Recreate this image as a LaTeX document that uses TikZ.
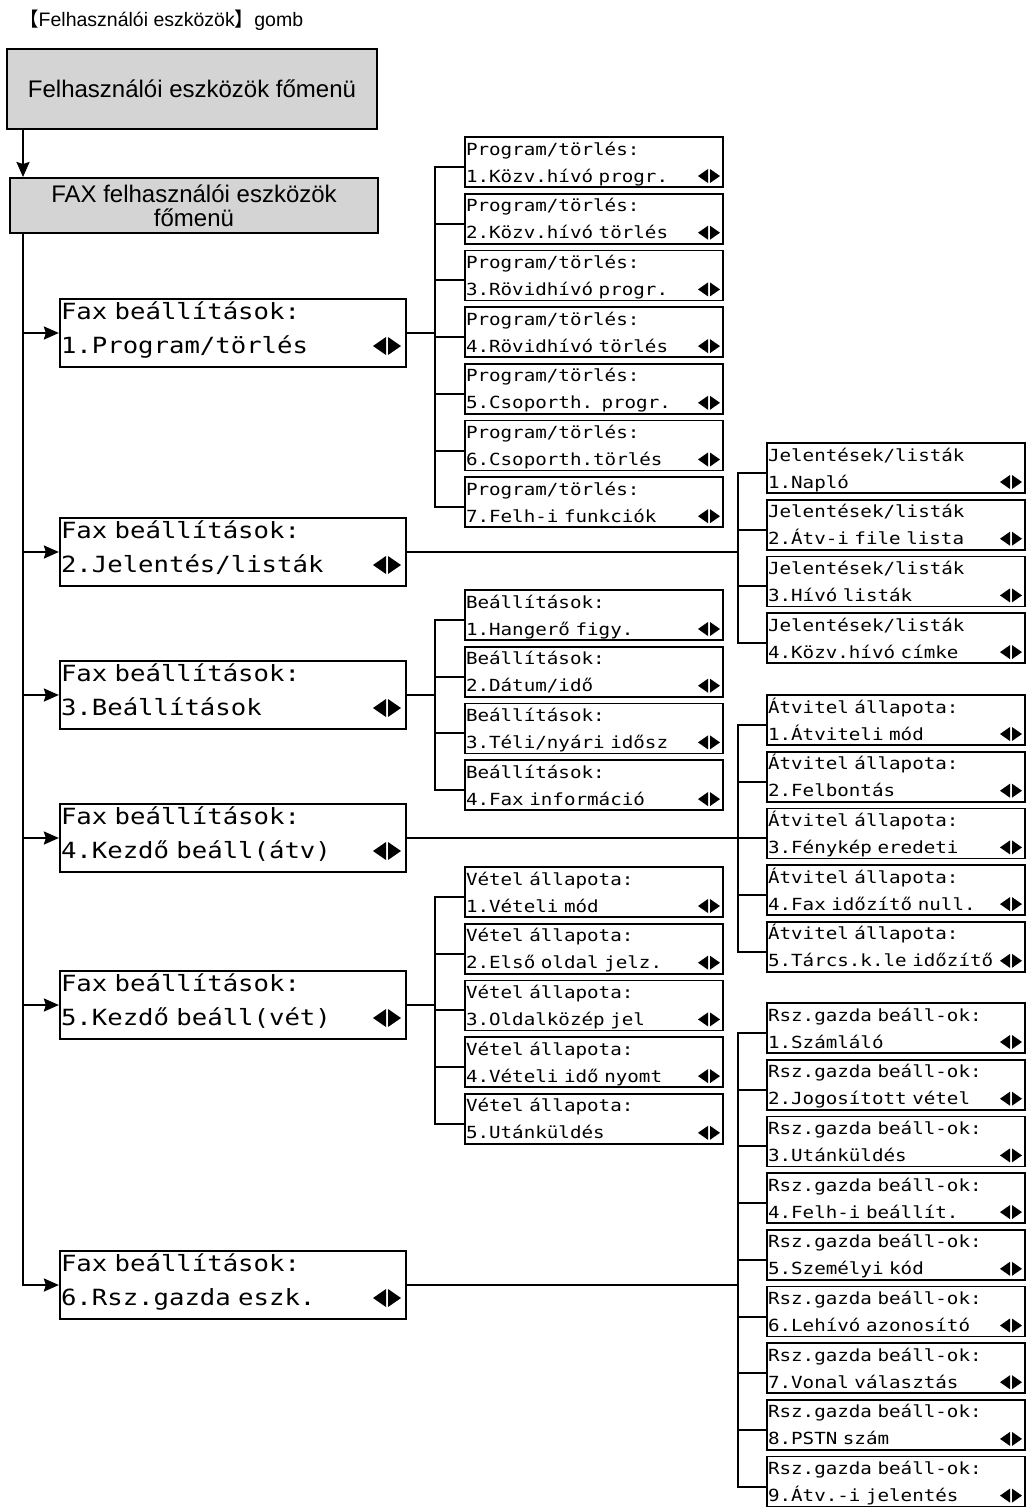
\documentclass[tikz,border=0pt]{standalone}
\usepackage{fontspec}
\newfontfamily\helv{Liberation Sans}
\newfontfamily\cjk{Noto Sans CJK JP}
\newfontfamily\lcd[FakeStretch=1.15]{DejaVu Sans Mono}
\protected\def\lcdbig{\lcd\fontsize{22.3}{34}\selectfont\spaceskip=15.44pt\relax}
\protected\def\lcdsmall{\lcd\fontsize{16.7}{27}\selectfont\spaceskip=11.56pt\relax}
\definecolor{MenuGray}{RGB}{212, 212, 212}
\usetikzlibrary{arrows.meta, positioning, calc}

\tikzset{
    menubox/.style={draw, line width=2pt, fill=MenuGray, align=center, inner sep=0pt},
    lcdmain/.style={draw, line width=2.2pt, minimum width=346pt, minimum height=68pt,
        text width=344pt, inner xsep=1pt, inner ysep=1pt, align=left,
        text height=19pt, text depth=47pt, font=\lcdbig,
        path picture={
            \fill ([xshift=-33pt, yshift=21pt]path picture bounding box.south east)
                -- ++(13pt, 9pt) -- ++(0pt, -18pt) -- cycle;
            \fill ([xshift=-5pt, yshift=21pt]path picture bounding box.south east)
                -- ++(-13pt, 9pt) -- ++(0pt, -18pt) -- cycle;
        }},
    lcdsub/.style={draw, line width=1.7pt, minimum width=258pt, minimum height=50pt,
        text width=256pt, inner xsep=1pt, inner ysep=1pt, align=left,
        text height=17pt, text depth=31pt, font=\lcdsmall,
        path picture={
            \fill ([xshift=-25pt, yshift=11pt]path picture bounding box.south east)
                -- ++(10pt, 7pt) -- ++(0pt, -14pt) -- cycle;
            \fill ([xshift=-3pt, yshift=11pt]path picture bounding box.south east)
                -- ++(-10pt, 7pt) -- ++(0pt, -14pt) -- cycle;
        }},
    tree/.style={line width=2pt},
    feed/.style={line width=2.2pt, -{Stealth[length=15pt, width=13pt, inset=2pt]}},
}

\begin{document}
\begin{tikzpicture}[x=1pt, y=-1pt]
        \useasboundingbox (0,0) rectangle (1027,1508);

        % button and the two top menus
        \node[anchor=base west, inner sep=0pt, font=\helv\fontsize{19.5}{21}\selectfont] (btnlabel) at (19,26)
            {{\cjk 【}Felhasználói eszközök{\cjk 】}gomb};
        \node[menubox, minimum width=370pt, minimum height=80pt, font=\helv\fontsize{24}{26}\selectfont] (umenu) at (192,89)
            {Felhasználói eszközök főmenü};
        \node[menubox, minimum width=368pt, minimum height=55pt, font=\helv\fontsize{24}{24}\selectfont] (faxmenu) at (194,205.5)
            {FAX felhasználói eszközök\\főmenü};

        \coordinate (trunk) at (23,233);
        \coordinate (busL) at (435,0);
        \coordinate (busR) at (738,0);

        % Fax beallitasok
        \node[lcdmain] (fs1) at (233,333) {Fax beállítások:\\1.Program/törlés};
        \node[lcdmain] (fs2) at (233,552) {Fax beállítások:\\2.Jelentés/listák};
        \node[lcdmain] (fs3) at (233,695) {Fax beállítások:\\3.Beállítások};
        \node[lcdmain] (fs4) at (233,838) {Fax beállítások:\\4.Kezdő beáll(átv)};
        \node[lcdmain] (fs5) at (233,1005) {Fax beállítások:\\5.Kezdő beáll(vét)};
        \node[lcdmain] (fs6) at (233,1285) {Fax beállítások:\\6.Rsz.gazda eszk.};

        % Program/torles
        \node[lcdsub] (prog1) at (594,162) {Program/törlés:\\1.Közv.hívó progr.};
        \node[lcdsub] (prog2) at (594,218.7) {Program/törlés:\\2.Közv.hívó törlés};
        \node[lcdsub] (prog3) at (594,275.4) {Program/törlés:\\3.Rövidhívó progr.};
        \node[lcdsub] (prog4) at (594,332.1) {Program/törlés:\\4.Rövidhívó törlés};
        \node[lcdsub] (prog5) at (594,388.8) {Program/törlés:\\5.Csoporth. progr.};
        \node[lcdsub] (prog6) at (594,445.5) {Program/törlés:\\6.Csoporth.törlés};
        \node[lcdsub] (prog7) at (594,502.2) {Program/törlés:\\7.Felh-i funkciók};

        % Beallitasok
        \node[lcdsub] (beall1) at (594,615) {Beállítások:\\1.Hangerő figy.};
        \node[lcdsub] (beall2) at (594,671.7) {Beállítások:\\2.Dátum/idő};
        \node[lcdsub] (beall3) at (594,728.4) {Beállítások:\\3.Téli/nyári idősz};
        \node[lcdsub] (beall4) at (594,785.1) {Beállítások:\\4.Fax információ};

        % Vetel allapota
        \node[lcdsub] (vetel1) at (594,892) {Vétel állapota:\\1.Vételi mód};
        \node[lcdsub] (vetel2) at (594,948.7) {Vétel állapota:\\2.Első oldal jelz.};
        \node[lcdsub] (vetel3) at (594,1005.4) {Vétel állapota:\\3.Oldalközép jel};
        \node[lcdsub] (vetel4) at (594,1062.1) {Vétel állapota:\\4.Vételi idő nyomt};
        \node[lcdsub] (vetel5) at (594,1118.8) {Vétel állapota:\\5.Utánküldés};

        % Jelentesek/listak
        \node[lcdsub] (jel1) at (896,468) {Jelentések/listák\\1.Napló};
        \node[lcdsub] (jel2) at (896,524.7) {Jelentések/listák\\2.Átv-i file lista};
        \node[lcdsub] (jel3) at (896,581.4) {Jelentések/listák\\3.Hívó listák};
        \node[lcdsub] (jel4) at (896,638.1) {Jelentések/listák\\4.Közv.hívó címke};

        % Atvitel allapota
        \node[lcdsub] (atv1) at (896,720) {Átvitel állapota:\\1.Átviteli mód};
        \node[lcdsub] (atv2) at (896,776.7) {Átvitel állapota:\\2.Felbontás};
        \node[lcdsub] (atv3) at (896,833.4) {Átvitel állapota:\\3.Fénykép eredeti};
        \node[lcdsub] (atv4) at (896,890.1) {Átvitel állapota:\\4.Fax időzítő null.};
        \node[lcdsub] (atv5) at (896,946.8) {Átvitel állapota:\\5.Tárcs.k.le időzítő};

        % Rsz.gazda beall-ok
        \node[lcdsub] (rsz1) at (896,1028) {Rsz.gazda beáll-ok:\\1.Számláló};
        \node[lcdsub] (rsz2) at (896,1084.7) {Rsz.gazda beáll-ok:\\2.Jogosított vétel};
        \node[lcdsub] (rsz3) at (896,1141.4) {Rsz.gazda beáll-ok:\\3.Utánküldés};
        \node[lcdsub] (rsz4) at (896,1198.1) {Rsz.gazda beáll-ok:\\4.Felh-i beállít.};
        \node[lcdsub] (rsz5) at (896,1254.8) {Rsz.gazda beáll-ok:\\5.Személyi kód};
        \node[lcdsub] (rsz6) at (896,1311.5) {Rsz.gazda beáll-ok:\\6.Lehívó azonosító};
        \node[lcdsub] (rsz7) at (896,1368.2) {Rsz.gazda beáll-ok:\\7.Vonal választás};
        \node[lcdsub] (rsz8) at (896,1424.9) {Rsz.gazda beáll-ok:\\8.PSTN szám};
        \node[lcdsub] (rsz9) at (896,1481.6) {Rsz.gazda beáll-ok:\\9.Átv.-i jelentés};

        % trunk and arrows
        \draw[feed] (umenu.south -| trunk) -- (faxmenu.north -| trunk);
        \draw[feed] (trunk) |- (fs1.west);
        \draw[feed] (trunk) |- (fs2.west);
        \draw[feed] (trunk) |- (fs3.west);
        \draw[feed] (trunk) |- (fs4.west);
        \draw[feed] (trunk) |- (fs5.west);
        \draw[feed] (trunk) |- (fs6.west);

        % branches
        \draw[tree] (fs1.east) -- (fs1.east -| busL) |- ([yshift=-5pt]prog1.west);
        \draw[tree] (fs1.east) -- (fs1.east -| busL) |- ([yshift=-5pt]prog2.west);
        \draw[tree] (fs1.east) -- (fs1.east -| busL) |- ([yshift=-5pt]prog3.west);
        \draw[tree] (fs1.east) -- (fs1.east -| busL) |- ([yshift=-5pt]prog4.west);
        \draw[tree] (fs1.east) -- (fs1.east -| busL) |- ([yshift=-5pt]prog5.west);
        \draw[tree] (fs1.east) -- (fs1.east -| busL) |- ([yshift=-5pt]prog6.west);
        \draw[tree] (fs1.east) -- (fs1.east -| busL) |- ([yshift=-5pt]prog7.west);

        \draw[tree] (fs2.east) -- (fs2.east -| busR) |- ([yshift=-5pt]jel1.west);
        \draw[tree] (fs2.east) -- (fs2.east -| busR) |- ([yshift=-5pt]jel2.west);
        \draw[tree] (fs2.east) -- (fs2.east -| busR) |- ([yshift=-5pt]jel3.west);
        \draw[tree] (fs2.east) -- (fs2.east -| busR) |- ([yshift=-5pt]jel4.west);

        \draw[tree] (fs3.east) -- (fs3.east -| busL) |- ([yshift=-5pt]beall1.west);
        \draw[tree] (fs3.east) -- (fs3.east -| busL) |- ([yshift=-5pt]beall2.west);
        \draw[tree] (fs3.east) -- (fs3.east -| busL) |- ([yshift=-5pt]beall3.west);
        \draw[tree] (fs3.east) -- (fs3.east -| busL) |- ([yshift=-5pt]beall4.west);

        \draw[tree] (fs4.east) -- (fs4.east -| busR) |- ([yshift=-5pt]atv1.west);
        \draw[tree] (fs4.east) -- (fs4.east -| busR) |- ([yshift=-5pt]atv2.west);
        \draw[tree] (fs4.east) -- (fs4.east -| busR) |- ([yshift=-5pt]atv3.west);
        \draw[tree] (fs4.east) -- (fs4.east -| busR) |- ([yshift=-5pt]atv4.west);
        \draw[tree] (fs4.east) -- (fs4.east -| busR) |- ([yshift=-5pt]atv5.west);

        \draw[tree] (fs5.east) -- (fs5.east -| busL) |- ([yshift=-5pt]vetel1.west);
        \draw[tree] (fs5.east) -- (fs5.east -| busL) |- ([yshift=-5pt]vetel2.west);
        \draw[tree] (fs5.east) -- (fs5.east -| busL) |- ([yshift=-5pt]vetel3.west);
        \draw[tree] (fs5.east) -- (fs5.east -| busL) |- ([yshift=-5pt]vetel4.west);
        \draw[tree] (fs5.east) -- (fs5.east -| busL) |- ([yshift=-5pt]vetel5.west);

        \draw[tree] (fs6.east) -- (fs6.east -| busR) |- ([yshift=-5pt]rsz1.west);
        \draw[tree] (fs6.east) -- (fs6.east -| busR) |- ([yshift=-5pt]rsz2.west);
        \draw[tree] (fs6.east) -- (fs6.east -| busR) |- ([yshift=-5pt]rsz3.west);
        \draw[tree] (fs6.east) -- (fs6.east -| busR) |- ([yshift=-5pt]rsz4.west);
        \draw[tree] (fs6.east) -- (fs6.east -| busR) |- ([yshift=-5pt]rsz5.west);
        \draw[tree] (fs6.east) -- (fs6.east -| busR) |- ([yshift=-5pt]rsz6.west);
        \draw[tree] (fs6.east) -- (fs6.east -| busR) |- ([yshift=-5pt]rsz7.west);
        \draw[tree] (fs6.east) -- (fs6.east -| busR) |- ([yshift=-5pt]rsz8.west);
        \draw[tree] (fs6.east) -- (fs6.east -| busR) |- ([yshift=-5pt]rsz9.west);
    \end{tikzpicture}
\end{document}
